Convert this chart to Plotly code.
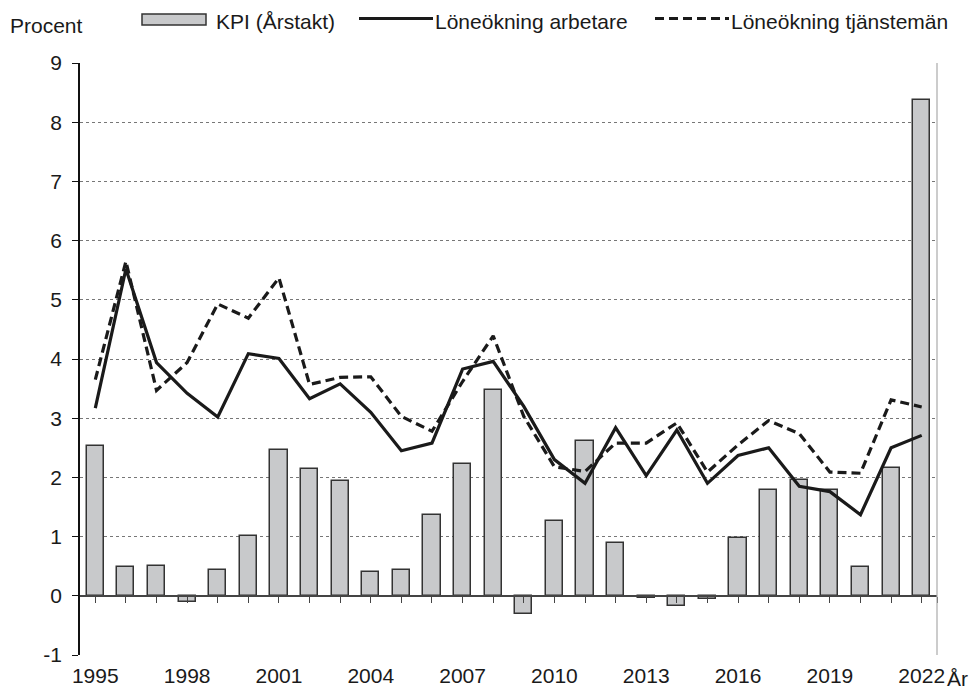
import plotly.graph_objects as go

years = list(range(1995, 2023))
kpi = [2.53, 0.48, 0.51, -0.11, 0.43, 1.01, 2.47, 2.14, 1.94, 0.40,
       0.44, 1.36, 2.22, 3.47, -0.31, 1.27, 2.62, 0.90, -0.04, -0.18,
       -0.05, 0.98, 1.79, 1.95, 1.78, 0.49, 2.16, 8.37]
arbetare = [3.17, 5.52, 3.94, 3.42, 3.02, 4.09, 4.01, 3.33, 3.58, 3.10,
            2.45, 2.58, 3.83, 3.96, 3.20, 2.30, 1.90, 2.84, 2.03, 2.80,
            1.90, 2.37, 2.50, 1.85, 1.76, 1.37, 2.50, 2.71]
tjansteman = [3.65, 5.65, 3.47, 3.94, 4.93, 4.69, 5.37, 3.57, 3.69, 3.70,
              3.03, 2.78, 3.62, 4.39, 3.03, 2.18, 2.10, 2.58, 2.58, 2.92,
              2.09, 2.55, 2.96, 2.74, 2.09, 2.07, 3.31, 3.19]
label_years = list(range(1995, 2023, 3))
y_ticks = list(range(-1, 10))
y_ticktext = [str(v).replace("\u2212", "-") for v in y_ticks]

names = ["KPI (Årstakt)", "Löneökning arbetare", "Löneökning tjänstemän"]

W, H = 979, 688
L, R, T, B = 80, 42, 63, 33
PW, PH = W - L - R, H - T - B

def px(x):
    return (x - L) / PW

def py(y):
    return (H - B - y) / PH

FONT = "Liberation Sans, Arial, sans-serif"
FS = 21
LINE_C = "#1a1a1a"
BAR_FILL = "#c8c9cb"
BAR_LINE = "#333333"

fig = go.Figure()
fig.add_trace(go.Bar(x=years, y=kpi, name=names[0], width=0.56,
                     marker=dict(color=BAR_FILL, line=dict(color=BAR_LINE, width=1.5)),
                     showlegend=False))
fig.add_trace(go.Scatter(x=years, y=arbetare, name=names[1], mode="lines",
                         line=dict(color=LINE_C, width=3.2), showlegend=False))
fig.add_trace(go.Scatter(x=years, y=tjansteman, name=names[2], mode="lines",
                         line=dict(color=LINE_C, width=3.2, dash="9px,5px"), showlegend=False))
# helper trace for the zero-line axis with tick marks
fig.add_trace(go.Scatter(x=years, y=[None] * len(years), xaxis="x2", showlegend=False,
                         hoverinfo="skip", mode="lines"))

xr = [years[0] - 0.5, years[-1] + 0.5]
fig.update_layout(
    width=W, height=H,
    margin=dict(l=L, r=R, t=T, b=B, autoexpand=False),
    paper_bgcolor="white", plot_bgcolor="white",
    font=dict(family=FONT, size=FS, color="#1a1a1a"),
    bargap=0,
    xaxis=dict(range=xr, tickvals=label_years, ticktext=[str(y) for y in label_years],
               showgrid=False, zeroline=False, showline=False, ticks="",
               ticklabelstandoff=6, tickfont=dict(size=FS), automargin=False),
    xaxis2=dict(range=xr, overlaying="x", anchor="free", position=0.1,
                tickvals=years + [years[-1] + 0.5], showticklabels=False,
                ticks="outside", ticklen=6, tickcolor="#444", tickwidth=1.2,
                showline=True, linecolor="#444", linewidth=1.5,
                showgrid=False, zeroline=False, automargin=False),
    yaxis=dict(range=[-1, 9], tickvals=y_ticks, ticktext=y_ticktext, showgrid=True,
               gridcolor="#777", griddash="dot", gridwidth=1,
               zeroline=False, showline=True, linecolor="#111", linewidth=1.5,
               ticks="outside", ticklen=6, tickcolor="#111", tickwidth=1.2,
               ticklabelstandoff=6, tickfont=dict(size=FS), automargin=False),
)

shapes = []
# right border of plot area
shapes.append(dict(type="line", xref="paper", yref="paper", x0=1, x1=1, y0=0, y1=1,
                   line=dict(color="#aaaaaa", width=1.2)))
# manual legend
shapes.append(dict(type="rect", xref="paper", yref="paper",
                   x0=px(142), x1=px(206), y0=py(25), y1=py(14),
                   fillcolor=BAR_FILL, line=dict(color=BAR_LINE, width=1.5)))
shapes.append(dict(type="line", xref="paper", yref="paper",
                   x0=px(359), x1=px(433), y0=py(18.5), y1=py(18.5),
                   line=dict(color=LINE_C, width=3)))
shapes.append(dict(type="line", xref="paper", yref="paper",
                   x0=px(655), x1=px(729), y0=py(18.5), y1=py(18.5),
                   line=dict(color=LINE_C, width=3, dash="9px,5px")))
fig.update_layout(shapes=shapes)

ann = []
for xpos, txt in [(214, names[0]), (433, names[1]), (729, names[2])]:
    ann.append(dict(xref="paper", yref="paper", x=px(xpos), y=py(21.5), text=txt,
                    showarrow=False, xanchor="left", yanchor="middle",
                    font=dict(family=FONT, size=FS, color="#1a1a1a")))
ann.append(dict(xref="paper", yref="paper", x=px(8), y=py(25.5), text="Procent",
                showarrow=False, xanchor="left", yanchor="middle",
                font=dict(family=FONT, size=FS, color="#1a1a1a")))
ann.append(dict(xref="paper", yref="paper", x=px(970), y=py(678), text="År",
                showarrow=False, xanchor="right", yanchor="middle",
                font=dict(family=FONT, size=FS, color="#1a1a1a")))
fig.update_layout(annotations=ann)

fig.write_html("out.html", config={"displayModeBar": False},
               post_script="document.body.style.margin='0';document.body.style.overflow='hidden';")
